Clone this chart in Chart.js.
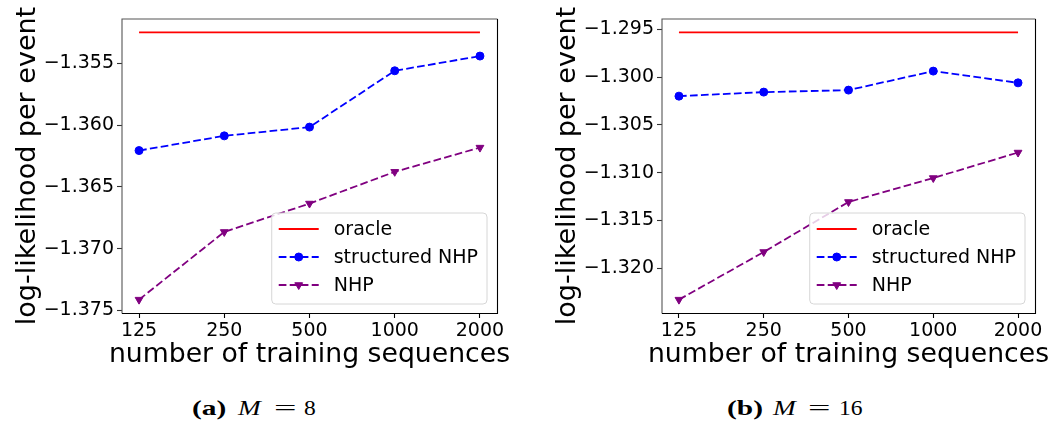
<!DOCTYPE html>
<html>
<head>
<meta charset="utf-8">
<script src="https://cdn.jsdelivr.net/npm/chart.js@4.4.1/dist/chart.umd.min.js"></script>
<style>
  html, body { margin: 0; padding: 0; background: #fff; width: 1054px; height: 426px; overflow: hidden; }
  .panel { position: absolute; top: 0; width: 527px; height: 385px; }
  .cap {
    position: absolute; top: 398px; line-height: 21px;
    font-family: "Liberation Serif", "Times New Roman", serif; font-size: 21px; color: #000;
    white-space: nowrap; transform-origin: 0 0;
  }
  .cap.b { font-weight: bold; transform: scaleX(1.4); }
  .cap.i { font-style: italic; transform: scaleX(1.3); }
  .cap.eq { transform: scaleX(1.9); }
  .cap.n { transform: scaleX(1.12); }
</style>
</head>
<body>
<div class="panel" style="left:0"><canvas id="chartA" width="527" height="385"></canvas></div>
<div class="panel" style="left:527px"><canvas id="chartB" width="527" height="385"></canvas></div>

<!-- sub-figure captions -->
<span class="cap b"  style="left:192px">(a)</span>
<span class="cap i"  style="left:238px">M</span>
<span class="cap eq" style="left:274px">=</span>
<span class="cap n"  style="left:304px">8</span>

<span class="cap b"  style="left:727px">(b)</span>
<span class="cap i"  style="left:773px">M</span>
<span class="cap eq" style="left:808px">=</span>
<span class="cap n"  style="left:839px">16</span>

<script>
// Number of training sequences (x axis categories)
const categories = ['125', '250', '500', '1000', '2000'];

// Panel (a): M = 8
const oracleA     = [-1.35249, -1.35249, -1.35249, -1.35249, -1.35249];
const structuredA = [-1.36206, -1.36087, -1.36016, -1.35560, -1.35441];
const nhpA        = [-1.37413, -1.36865, -1.36635, -1.36378, -1.36182];
const yTicksA     = [-1.375, -1.370, -1.365, -1.360, -1.355];

// Panel (b): M = 16
const oracleB     = [-1.29531, -1.29531, -1.29531, -1.29531, -1.29531];
const structuredB = [-1.30199, -1.30157, -1.30136, -1.29937, -1.30060];
const nhpB        = [-1.32331, -1.31832, -1.31308, -1.31057, -1.30790];
const yTicksB     = [-1.320, -1.315, -1.310, -1.305, -1.300, -1.295];

const seriesLabels = ['oracle', 'structured NHP', 'NHP'];
const xTitle = 'number of training sequences';
const yTitle = 'log-likelihood per event';

const FONT = '"DejaVu Sans", "Liberation Sans", sans-serif';
const DASH = [7.7, 3.3];

function toPoints(values) {
  return values.map((v, i) => ({ x: i, y: v }));
}

// Autoscale with a 5% margin on both ends of the data span
function paddedRange(arrays) {
  const all = [].concat(...arrays);
  const lo = Math.min(...all), hi = Math.max(...all);
  const m = (hi - lo) * 0.05;
  return { min: lo - m, max: hi + m };
}

// Axes frame, axis titles (drawn at natural width) and in-plot legend
const frameAndLegend = {
  id: 'frameAndLegend',
  afterDatasetsDraw(chart) {
    const { ctx, chartArea: a } = chart;
    const L = Math.round(a.left), T = Math.round(a.top);
    const R = Math.round(a.right), B = Math.round(a.bottom);
    ctx.save();
    ctx.lineWidth = 1.1;
    // left and top spines
    ctx.strokeStyle = '#555';
    ctx.beginPath();
    ctx.moveTo(L, B + 0.5); ctx.lineTo(L, T); ctx.lineTo(R + 0.5, T);
    ctx.stroke();
    // right and bottom spines
    ctx.strokeStyle = '#000';
    ctx.beginPath();
    ctx.moveTo(R + 0.5, T); ctx.lineTo(R + 0.5, B + 0.5); ctx.lineTo(L, B + 0.5);
    ctx.stroke();

    // axis titles
    ctx.fillStyle = '#000';
    ctx.textAlign = 'center';
    ctx.textBaseline = 'alphabetic';
    ctx.font = '26.7px ' + FONT;
    ctx.fillText(xTitle, (a.left + a.right) / 2, 362);
    ctx.save();
    ctx.translate(a.left - 87, (a.top + a.bottom) / 2);
    ctx.rotate(-Math.PI / 2);
    ctx.font = '27px ' + FONT;
    ctx.fillText(yTitle, 0, 0);
    ctx.restore();

    // legend
    ctx.font = '19px ' + FONT;
    const texts = chart.data.datasets.map(d => d.label);
    const maxW = Math.max(...texts.map(t => ctx.measureText(t).width));
    const boxW = 62 + maxW + 9;
    const boxH = 91;
    const bx = a.right - 10 - boxW;
    const by = a.bottom - 9 - boxH;
    ctx.beginPath();
    if (ctx.roundRect) ctx.roundRect(bx, by, boxW, boxH, 4); else ctx.rect(bx, by, boxW, boxH);
    ctx.fillStyle = 'rgba(255,255,255,0.8)';
    ctx.fill();
    ctx.strokeStyle = '#d6d6d6';
    ctx.lineWidth = 1;
    ctx.stroke();

    chart.data.datasets.forEach((ds, i) => {
      const cy = by + 16 + i * 28;
      const x0 = bx + 7, x1 = bx + 47, xm = (x0 + x1) / 2;
      ctx.beginPath();
      ctx.setLineDash(ds.borderDash || []);
      ctx.strokeStyle = ds.borderColor;
      ctx.lineWidth = ds.borderWidth;
      ctx.moveTo(x0, cy);
      ctx.lineTo(x1, cy);
      ctx.stroke();
      ctx.setLineDash([]);
      if (ds.pointRadius > 0) {
        ctx.fillStyle = ds.pointBackgroundColor;
        ctx.strokeStyle = ds.pointBorderColor;
        ctx.lineWidth = 1;
        Chart.helpers.drawPoint(ctx, {
          pointStyle: ds.pointStyle, rotation: ds.pointRotation || 0,
          radius: ds.pointRadius, borderWidth: 1
        }, xm, cy);
      }
      ctx.fillStyle = '#000';
      ctx.textBaseline = 'middle';
      ctx.textAlign = 'left';
      ctx.fillText(ds.label, bx + 62, cy + 1);
    });
    ctx.restore();
  }
};

function drawPanel(canvasId, oracle, structured, nhp, yTicks, padLeft, padRight) {
  const range = paddedRange([oracle, structured, nhp]);
  return new Chart(document.getElementById(canvasId), {
    type: 'line',
    data: {
      datasets: [
        {
          label: seriesLabels[0], data: toPoints(oracle),
          borderColor: '#ff0000', borderWidth: 1.8, pointRadius: 0, pointHoverRadius: 0
        },
        {
          label: seriesLabels[1], data: toPoints(structured),
          borderColor: '#0000ff', borderWidth: 1.8, borderDash: DASH,
          pointStyle: 'circle', pointRadius: 4, pointBorderWidth: 1,
          pointBackgroundColor: '#0000ff', pointBorderColor: '#0000ff'
        },
        {
          label: seriesLabels[2], data: toPoints(nhp),
          borderColor: '#800080', borderWidth: 1.8, borderDash: DASH,
          pointStyle: 'triangle', pointRotation: 180, pointRadius: 4.5, pointBorderWidth: 1,
          pointBackgroundColor: '#800080', pointBorderColor: '#800080'
        }
      ]
    },
    options: {
      responsive: false,
      animation: false,
      devicePixelRatio: 1,
      layout: { padding: { left: padLeft, right: padRight, top: 19, bottom: 0 } },
      plugins: { legend: { display: false }, tooltip: { enabled: false } },
      elements: { line: { tension: 0 } },
      scales: {
        x: {
          type: 'linear', min: -0.2, max: 4.2,
          afterBuildTicks(s) { s.ticks = categories.map((_, i) => ({ value: i })); },
          afterFit(s) { s.height = 72; },
          ticks: {
            callback: v => categories[v], autoSkip: false, maxRotation: 0,
            font: { family: FONT, size: 19 }, color: '#000', padding: 2
          },
          grid: { drawOnChartArea: false, drawTicks: true, tickLength: 5, tickColor: '#000', tickWidth: 1.1 },
          border: { display: false },
          title: { display: false }
        },
        y: {
          type: 'linear', min: range.min, max: range.max,
          afterBuildTicks(s) { s.ticks = yTicks.map(v => ({ value: v })); },
          afterFit(s) { s.width = 122; },
          ticks: {
            callback: v => '\u2212' + Math.abs(v).toFixed(3),
            font: { family: FONT, size: 19 }, color: '#000', padding: 3
          },
          grid: { drawOnChartArea: false, drawTicks: true, tickLength: 5, tickColor: '#333', tickWidth: 1.1 },
          border: { display: false },
          title: { display: false }
        }
      }
    },
    plugins: [frameAndLegend]
  });
}

drawPanel('chartA', oracleA, structuredA, nhpA, yTicksA, 0, 30);
drawPanel('chartB', oracleB, structuredB, nhpB, yTicksB, 13, 19);
</script>
</body>
</html>
